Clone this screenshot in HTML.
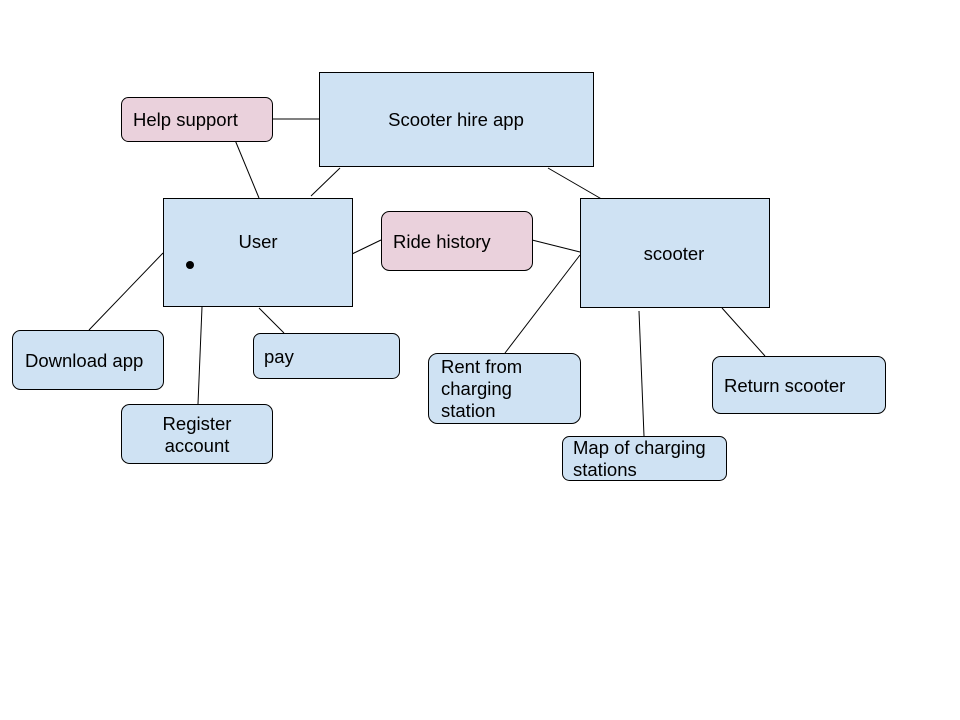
<!DOCTYPE html>
<html><head><meta charset="utf-8"><style>
html,body{margin:0;padding:0;background:#fff;}
svg{display:block;}
text{font-family:"Liberation Sans",Arial,sans-serif;font-size:18.5px;fill:#000;}
</style></head><body>
<svg width="960" height="720" viewBox="0 0 960 720" xmlns="http://www.w3.org/2000/svg">
<g stroke="#000" stroke-width="1" fill="none">
<line x1="272" y1="119" x2="319" y2="119"/>
<line x1="235" y1="140" x2="259" y2="198"/>
<line x1="340" y1="168" x2="311" y2="196"/>
<line x1="548" y1="168" x2="605" y2="201"/>
<line x1="352" y1="254" x2="381" y2="240"/>
<line x1="532" y1="240" x2="580" y2="252"/>
<line x1="163" y1="253" x2="89" y2="330"/>
<line x1="202" y1="307" x2="198" y2="404"/>
<line x1="259" y1="308" x2="284" y2="333"/>
<line x1="580" y1="255" x2="505" y2="353"/>
<line x1="639" y1="311" x2="644" y2="436"/>
<line x1="722" y1="308" x2="765" y2="356"/>
</g>
<g stroke="#000" stroke-width="1">
<rect x="319.5" y="72.5" width="274" height="94" fill="#cfe2f3"/>
<rect x="121.5" y="97.5" width="151" height="44" rx="7" fill="#ead1dc"/>
<rect x="163.5" y="198.5" width="189" height="108" fill="#cfe2f3"/>
<rect x="381.5" y="211.5" width="151" height="59" rx="8" fill="#ead1dc"/>
<rect x="580.5" y="198.5" width="189" height="109" fill="#cfe2f3"/>
<rect x="12.5" y="330.5" width="151" height="59" rx="8" fill="#cfe2f3"/>
<rect x="253.5" y="333.5" width="146" height="45" rx="7" fill="#cfe2f3"/>
<rect x="121.5" y="404.5" width="151" height="59" rx="8" fill="#cfe2f3"/>
<rect x="428.5" y="353.5" width="152" height="70" rx="9" fill="#cfe2f3"/>
<rect x="562.5" y="436.5" width="164" height="44" rx="7" fill="#cfe2f3"/>
<rect x="712.5" y="356.5" width="173" height="57" rx="8" fill="#cfe2f3"/>
</g>
<circle cx="190" cy="265" r="4" fill="#000"/>
<text x="456" y="126" text-anchor="middle">Scooter hire app</text>
<text x="133" y="126">Help support</text>
<text x="258" y="248" text-anchor="middle">User</text>
<text x="393" y="248">Ride history</text>
<text x="674" y="260" text-anchor="middle">scooter</text>
<text x="25" y="367">Download app</text>
<text x="264" y="363">pay</text>
<text x="197" y="430" text-anchor="middle">Register</text>
<text x="197" y="452" text-anchor="middle">account</text>
<text x="441" y="373">Rent from</text>
<text x="441" y="395">charging</text>
<text x="441" y="417">station</text>
<text x="573" y="454">Map of charging</text>
<text x="573" y="476">stations</text>
<text x="724" y="392">Return scooter</text>
</svg>
</body></html>
